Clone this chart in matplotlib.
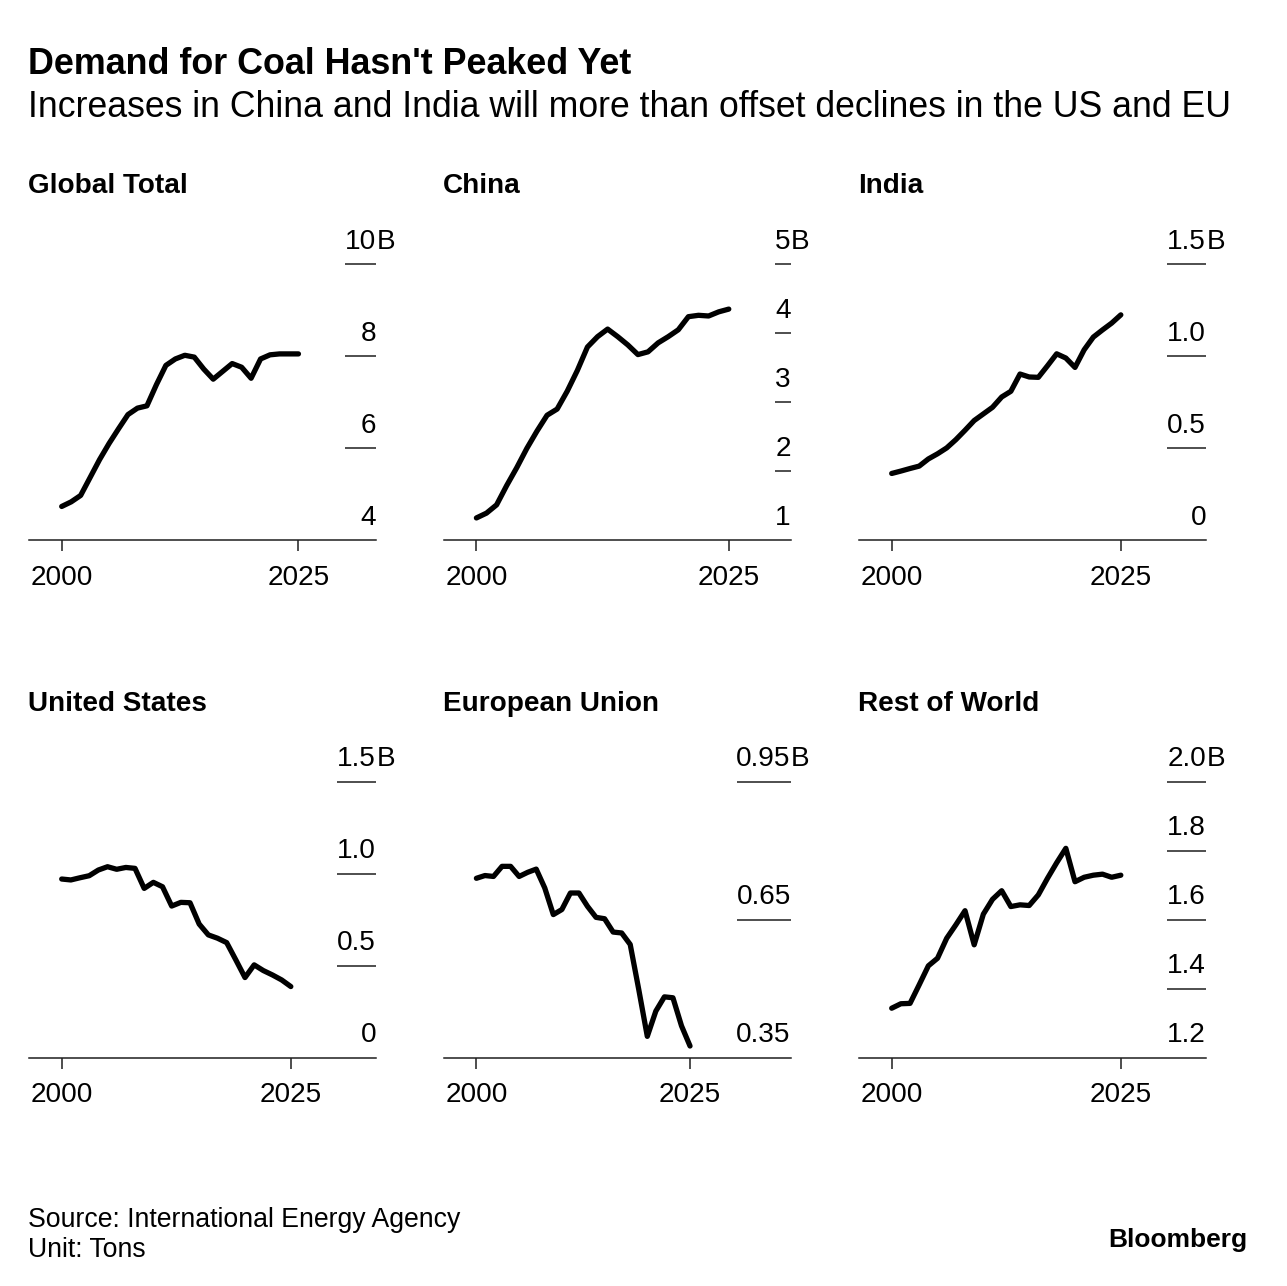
import matplotlib
matplotlib.use("Agg")
import matplotlib.pyplot as plt

plt.rcParams["font.family"] = ["Liberation Sans", "DejaVu Sans"]

# ---------------- data ----------------
years = list(range(2000, 2026))

global_total = [4.73, 4.83, 4.97, 5.36, 5.75, 6.10, 6.42, 6.73, 6.87, 6.92,
                7.38, 7.80, 7.94, 8.02, 7.98, 7.72, 7.50, 7.67, 7.84, 7.76,
                7.52, 7.94, 8.03, 8.05, 8.05, 8.05]
china = [1.32, 1.39, 1.51, 1.79, 2.05, 2.33, 2.58, 2.81, 2.90, 3.16,
         3.46, 3.80, 3.95, 4.06, 3.95, 3.83, 3.69, 3.73, 3.86, 3.95,
         4.05, 4.24, 4.26, 4.25, 4.31, 4.35]
india = [0.362, 0.375, 0.389, 0.402, 0.441, 0.469, 0.501, 0.546, 0.597, 0.650,
         0.686, 0.722, 0.778, 0.809, 0.903, 0.887, 0.885, 0.948, 1.013, 0.990,
         0.939, 1.035, 1.104, 1.143, 1.180, 1.225]
united_states = [0.971, 0.966, 0.978, 0.989, 1.020, 1.038, 1.024, 1.034, 1.029, 0.920,
                 0.953, 0.929, 0.824, 0.844, 0.842, 0.726, 0.667, 0.649, 0.625, 0.531,
                 0.435, 0.504, 0.473, 0.449, 0.422, 0.386]
european_union = [0.740, 0.746, 0.744, 0.766, 0.766, 0.744, 0.753, 0.760, 0.719, 0.661,
                  0.672, 0.708, 0.708, 0.679, 0.655, 0.652, 0.623, 0.621, 0.596, 0.498,
                  0.396, 0.451, 0.482, 0.480, 0.419, 0.375]
rest_of_world = [1.343, 1.356, 1.357, 1.411, 1.466, 1.488, 1.546, 1.585, 1.626, 1.527,
                 1.616, 1.659, 1.684, 1.638, 1.643, 1.641, 1.672, 1.720, 1.765, 1.807,
                 1.710, 1.723, 1.729, 1.732, 1.723, 1.729]

panel_titles = ["Global Total", "China", "India",
                "United States", "European Union", "Rest of World"]
series = [global_total, china, india, united_states, european_union, rest_of_world]
y_tick_values = [[4, 6, 8, 10], [1, 2, 3, 4, 5], [0, 0.5, 1.0, 1.5],
                 [0, 0.5, 1.0, 1.5], [0.35, 0.65, 0.95], [1.2, 1.4, 1.6, 1.8, 2.0]]
y_tick_labels = [["4", "6", "8", "10"], ["1", "2", "3", "4", "5"],
                 ["0", "0.5", "1.0", "1.5"], ["0", "0.5", "1.0", "1.5"],
                 ["0.35", "0.65", "0.95"], ["1.2", "1.4", "1.6", "1.8", "2.0"]]
unit_suffix = "B"
x_ticks = [2000, 2025]
x_tick_labels = ["2000", "2025"]

title = "Demand for Coal Hasn't Peaked Yet"
subtitle = "Increases in China and India will more than offset declines in the US and EU"
source = "Source: International Energy Agency"
unit = "Unit: Tons"
brand = "Bloomberg"

# ---------------- layout ----------------
W, H = 1287, 1286
DPI = 100
fig = plt.figure(figsize=(W / DPI, H / DPI), dpi=DPI, facecolor="white")
renderer = fig.canvas.get_renderer()
INK = "#1e1e1e"


def fit(t, target_px):
    w = t.get_window_extent(renderer).width
    t.set_fontsize(t.get_fontsize() * target_px / w)
    return t.get_fontsize()


def ftext(x, y, s, **kw):
    return fig.text(x / W, 1 - y / H, s, va="baseline", color="black", **kw)


t = ftext(27.5, 74, title, fontsize=20, weight="bold", ha="left")
fit(t, 604)
t = ftext(28, 117.3, subtitle, fontsize=20, ha="left")
fit(t, 1202)

tmp = ftext(0, 0, x_tick_labels[0], fontsize=15)
fs_tick = fit(tmp, 63)
tmp.remove()
tmp = ftext(0, 0, panel_titles[0], fontsize=15, weight="bold")
fs_panel = fit(tmp, 160)
tmp.remove()

col_left = [29.3, 444.0, 859.3]
row_bottom = [540.0, 1057.5]
ax_w, ax_h = 346.7, 275.7
lead_px, gap_px = 32.4, 46.3

for i, (name, vals, tv, tl) in enumerate(zip(panel_titles, series, y_tick_values, y_tick_labels)):
    r, c = divmod(i, 3)
    left, bottom = col_left[c], row_bottom[r]
    ax = fig.add_axes([left / W, 1 - bottom / H, ax_w / W, ax_h / H])
    ax.patch.set_alpha(0)
    ax.set_ylim(tv[0], tv[-1])

    widths = []
    for v, lab in zip(tv, tl):
        a = ax.annotate(lab, xy=(1, v), xycoords=("axes fraction", "data"),
                        xytext=(0, 15.5), textcoords="offset pixels",
                        ha="right", va="baseline", fontsize=fs_tick,
                        color="black", annotation_clip=False)
        widths.append(a.get_window_extent(renderer).width)
    ax.annotate(unit_suffix, xy=(1, tv[-1]), xycoords=("axes fraction", "data"),
                xytext=(0.5, 15.5), textcoords="offset pixels",
                ha="left", va="baseline", fontsize=fs_tick, color="black",
                annotation_clip=False)
    L = max(widths)

    ppy = (ax_w - lead_px - L - gap_px) / (years[-1] - years[0])
    ax.set_xlim(years[0] - lead_px / ppy, years[-1] + (L + gap_px) / ppy)

    ax.plot(years, vals, color="black", lw=3.8, solid_joinstyle="round",
            solid_capstyle="round", clip_on=False, zorder=3)

    ax.set_yticks(tv[1:])
    ax.yaxis.tick_right()
    ax.tick_params(axis="y", direction="in", length=L * 72 / DPI, width=1.1,
                   color=INK, labelright=False, labelleft=False)
    ax.set_xticks(x_ticks)
    ax.tick_params(axis="x", direction="out", length=7.7, width=1.1,
                   color=INK, labelbottom=False)
    for x, lab in zip(x_ticks, x_tick_labels):
        ax.annotate(lab, xy=(x, 0), xycoords=("data", "axes fraction"),
                    xytext=(0, -44.5), textcoords="offset pixels",
                    ha="center", va="baseline", fontsize=fs_tick, color="black",
                    annotation_clip=False)
    for s in ("top", "left", "right"):
        ax.spines[s].set_visible(False)
    ax.spines["bottom"].set_color(INK)
    ax.spines["bottom"].set_linewidth(1.1)

    ftext(left - 1, bottom - ax_h - 71, name, fontsize=fs_panel, weight="bold", ha="left")

t = ftext(28.3, 1226.7, source, fontsize=15, ha="left")
fs_src = fit(t, 435)
ftext(28.3, 1256.7, unit, fontsize=fs_src, ha="left")
t = ftext(1247.5, 1247, brand, fontsize=15, weight="bold", ha="right")
fit(t, 140)

fig.savefig("out.png", dpi=DPI, facecolor="white")
